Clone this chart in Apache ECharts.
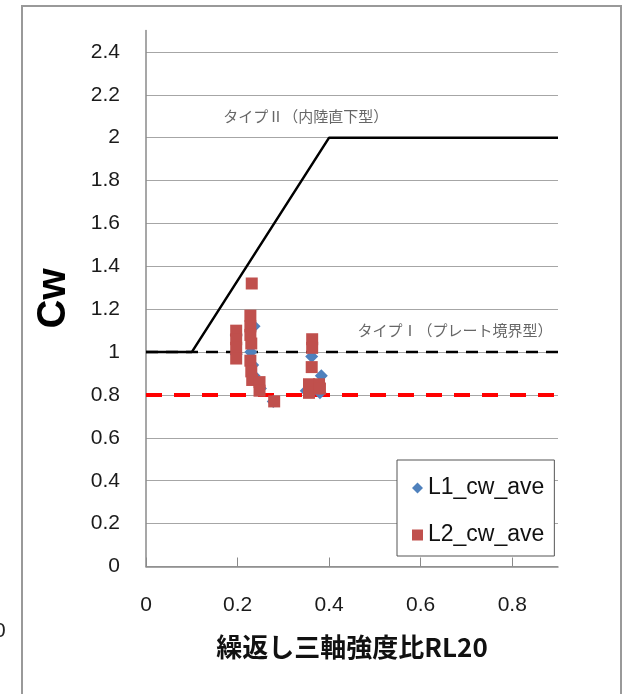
<!DOCTYPE html>
<html>
<head>
<meta charset="utf-8">
<script src="https://cdn.jsdelivr.net/npm/echarts@6/dist/echarts.min.js"></script>
<style>
  html, body { margin: 0; padding: 0; background: #fff; }
  #chart { width: 625px; height: 694px; }
</style>
</head>
<body>
<div id="chart"></div>
<script>
// L1 (blue diamonds) and L2 (red squares): [RL20, Cw]
var l1Points = [
    [0.197, 1.08], [0.197, 0.99], [0.229, 1.00], [0.236, 1.12], [0.233, 0.94],
    [0.236, 0.89], [0.250, 0.83], [0.278, 0.77], [0.362, 0.98], [0.383, 0.89],
    [0.350, 0.82], [0.380, 0.81]
];
var l2Points = [
    [0.197, 1.10], [0.197, 1.06], [0.197, 1.02], [0.197, 0.97],
    [0.231, 1.32], [0.228, 1.17], [0.228, 1.12], [0.228, 1.08], [0.230, 1.04],
    [0.228, 0.96], [0.230, 0.91], [0.232, 0.87],
    [0.248, 0.86], [0.248, 0.82],
    [0.280, 0.77],
    [0.363, 1.06], [0.363, 1.02], [0.362, 0.93],
    [0.356, 0.85], [0.356, 0.81], [0.378, 0.85], [0.380, 0.83]
];

// design curves
var type2Line = [[0, 1], [0.1, 1], [0.4, 2], [0.9, 2]];
var type1Line = [[0, 1], [0.9, 1]];
var limitLine = [[0, 0.8], [0.9, 0.8]];

var notes = [
    { name: 'タイプⅡ（内陸直下型）', value: [0.349, 2.10] },
    { name: 'タイプⅠ（プレート境界型）', value: [0.675, 1.10] }
];

var xTicks = [0, 0.2, 0.4, 0.6, 0.8];

var chart = echarts.init(document.getElementById('chart'));

var option = {
    animation: false,
    backgroundColor: '#fff',
    grid: { left: 146, right: 67, top: 30.5, bottom: 127.5 },
    xAxis: {
        type: 'value',
        min: 0,
        max: 0.9,
        interval: 0.2,
        name: '繰返し三軸強度比RL20',
        nameLocation: 'middle',
        nameGap: 68,
        nameTextStyle: {
            fontFamily: 'Noto Sans CJK JP',
            fontWeight: 'bold',
            fontSize: 26,
            color: '#111'
        },
        axisLine: { show: true, lineStyle: { color: '#8a8a8a', width: 1.5 } },
        axisTick: { show: true, inside: true, length: 9, customValues: xTicks, lineStyle: { color: '#8a8a8a' } },
        axisLabel: {
            customValues: xTicks,
            margin: 28,
            fontFamily: 'Liberation Sans',
            fontSize: 21,
            color: '#1a1a1a'
        },
        splitLine: { show: false }
    },
    yAxis: {
        type: 'value',
        min: 0,
        max: 2.5,
        interval: 0.2,
        name: 'Cw',
        nameLocation: 'middle',
        nameRotate: 90,
        nameGap: 72,
        nameTextStyle: {
            fontFamily: 'Liberation Sans',
            fontWeight: 'bold',
            fontSize: 40,
            color: '#000'
        },
        axisLine: { show: true, lineStyle: { color: '#8a8a8a', width: 1.5 } },
        axisTick: { show: false },
        axisLabel: {
            showMaxLabel: false,
            margin: 26,
            fontFamily: 'Liberation Sans',
            fontSize: 21,
            color: '#1a1a1a'
        },
        splitLine: { show: true, showMaxLine: false, lineStyle: { color: '#a6a6a6', width: 1 } }
    },
    legend: {
        data: ['L1_cw_ave', 'L2_cw_ave'],
        orient: 'vertical',
        left: 397,
        top: 460,
        padding: [15, 10, 8, 15],
        itemGap: 21,
        itemWidth: 11,
        itemHeight: 11,
        backgroundColor: '#fff',
        borderColor: '#555',
        borderWidth: 1,
        textStyle: { fontFamily: 'Liberation Sans', fontSize: 23, lineHeight: 26, color: '#111' }
    },
    graphic: [
        {
            type: 'rect',
            shape: { x: 22, y: 6, width: 599, height: 700 },
            style: { fill: 'none', stroke: '#999', lineWidth: 2 },
            silent: true
        },
        {
            type: 'text',
            left: -6,
            top: 621,
            style: { text: '0', font: '21px "Liberation Sans"', fill: '#222' }
        }
    ],
    series: [
        {
            type: 'line',
            data: type1Line,
            symbol: 'none',
            lineStyle: { color: '#000', width: 2.5, type: [12, 8] },
            z: 2
        },
        {
            type: 'line',
            data: type2Line,
            symbol: 'none',
            lineStyle: { color: '#000', width: 2.5 },
            z: 2
        },
        {
            type: 'line',
            data: limitLine,
            symbol: 'none',
            lineStyle: { color: '#ff0000', width: 4, type: [16, 12] },
            z: 2
        },
        {
            type: 'scatter',
            data: notes,
            symbolSize: 0,
            label: {
                show: true,
                position: 'inside',
                formatter: '{b}',
                fontFamily: 'Noto Sans CJK JP',
                fontSize: 15,
                color: '#404040'
            },
            z: 3
        },
        {
            name: 'L1_cw_ave',
            type: 'scatter',
            data: l1Points,
            symbol: 'diamond',
            symbolSize: 13,
            itemStyle: { color: '#4f81bd', opacity: 1 },
            z: 4
        },
        {
            name: 'L2_cw_ave',
            type: 'scatter',
            data: l2Points,
            symbol: 'rect',
            symbolSize: 12,
            itemStyle: { color: '#c0504d', opacity: 1 },
            z: 5
        }
    ]
};

chart.setOption(option);
</script>
</body>
</html>
